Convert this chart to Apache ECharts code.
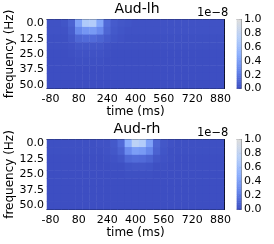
<!DOCTYPE html>
<html>
<head>
<meta charset="utf-8">
<script src="https://cdn.jsdelivr.net/npm/echarts@6/dist/echarts.min.js"></script>
<style>
html,body{margin:0;padding:0;background:#fff;}
#chart{width:274px;height:244px;}
</style>
</head>
<body>
<div id="chart"></div>
<script>
// ---- data ----
var times = [-80,-40,0,40,80,120,160,200,240,280,320,360,400,440,480,520,560,600,640,680,720,760,800,840,880];
var freqs = [0,6.25,12.5,18.75,25,31.25,37.5,43.75,50];
var titles = ['Aud-lh','Aud-rh'];
var colorbarTicks = [0,0.2,0.4,0.6,0.8,1.0];
var scaleLabel = '1e\u22128';
// power in units of 1e-8, one row per frequency (top row = 0 Hz)
var audLhPower = [
 [0.03,0.03,0.04,0.10,0.42,0.70,0.72,0.45,0.14,0.07,0.05,0.04,0.03,0.03,0.03,0.03,0.03,0.03,0.03,0.03,0.03,0.03,0.03,0.03,0.03],
 [0.03,0.03,0.03,0.08,0.28,0.36,0.38,0.30,0.12,0.06,0.04,0.03,0.03,0.03,0.03,0.03,0.03,0.03,0.03,0.03,0.03,0.03,0.03,0.03,0.03],
 [0.02,0.02,0.02,0.05,0.12,0.14,0.14,0.11,0.07,0.04,0.03,0.02,0.02,0.02,0.02,0.02,0.02,0.02,0.02,0.02,0.02,0.02,0.02,0.02,0.02],
 [0.02,0.02,0.02,0.03,0.05,0.05,0.05,0.05,0.03,0.02,0.02,0.02,0.02,0.02,0.02,0.02,0.02,0.02,0.02,0.02,0.02,0.02,0.02,0.02,0.02],
 [0.01,0.01,0.01,0.02,0.03,0.03,0.03,0.03,0.02,0.01,0.01,0.01,0.01,0.01,0.01,0.01,0.01,0.01,0.01,0.01,0.01,0.01,0.01,0.01,0.01],
 [0.01,0.01,0.01,0.01,0.02,0.02,0.02,0.02,0.01,0.01,0.01,0.01,0.01,0.01,0.01,0.01,0.01,0.01,0.01,0.01,0.01,0.01,0.01,0.01,0.01],
 [0.01,0.01,0.01,0.01,0.01,0.01,0.01,0.01,0.01,0.01,0.01,0.01,0.01,0.01,0.01,0.01,0.01,0.01,0.01,0.01,0.01,0.01,0.01,0.01,0.01],
 [0.01,0.01,0.01,0.01,0.01,0.01,0.01,0.01,0.01,0.01,0.01,0.01,0.01,0.01,0.01,0.01,0.01,0.01,0.01,0.01,0.01,0.01,0.01,0.01,0.01],
 [0.01,0.01,0.01,0.01,0.01,0.01,0.01,0.01,0.01,0.01,0.01,0.01,0.01,0.01,0.01,0.01,0.01,0.01,0.01,0.01,0.01,0.01,0.01,0.01,0.01]
];
var audRhPower = [
 [0.02,0.02,0.02,0.02,0.02,0.02,0.02,0.03,0.03,0.06,0.14,0.50,0.78,0.72,0.42,0.12,0.05,0.03,0.02,0.02,0.02,0.02,0.02,0.02,0.02],
 [0.02,0.02,0.02,0.02,0.02,0.02,0.02,0.02,0.03,0.05,0.10,0.30,0.40,0.38,0.28,0.10,0.04,0.02,0.02,0.02,0.02,0.02,0.02,0.02,0.02],
 [0.01,0.01,0.01,0.01,0.01,0.01,0.01,0.01,0.02,0.03,0.05,0.13,0.15,0.14,0.11,0.05,0.03,0.02,0.01,0.01,0.01,0.01,0.01,0.01,0.01],
 [0.01,0.01,0.01,0.01,0.01,0.01,0.01,0.01,0.01,0.02,0.02,0.04,0.05,0.05,0.04,0.02,0.02,0.01,0.01,0.01,0.01,0.01,0.01,0.01,0.01],
 [0.01,0.01,0.01,0.01,0.01,0.01,0.01,0.01,0.01,0.01,0.01,0.02,0.02,0.02,0.02,0.01,0.01,0.01,0.01,0.01,0.01,0.01,0.01,0.01,0.01],
 [0.01,0.01,0.01,0.01,0.01,0.01,0.01,0.01,0.01,0.01,0.01,0.01,0.01,0.01,0.01,0.01,0.01,0.01,0.01,0.01,0.01,0.01,0.01,0.01,0.01],
 [0.01,0.01,0.01,0.01,0.01,0.01,0.01,0.01,0.01,0.01,0.01,0.01,0.01,0.01,0.01,0.01,0.01,0.01,0.01,0.01,0.01,0.01,0.01,0.01,0.01],
 [0.01,0.01,0.01,0.01,0.01,0.01,0.01,0.01,0.01,0.01,0.01,0.01,0.01,0.01,0.01,0.01,0.01,0.01,0.01,0.01,0.01,0.01,0.01,0.01,0.01],
 [0.01,0.01,0.01,0.01,0.01,0.01,0.01,0.01,0.01,0.01,0.01,0.01,0.01,0.01,0.01,0.01,0.01,0.01,0.01,0.01,0.01,0.01,0.01,0.01,0.01]
];
var cmap = ['#3b4cc0','#6282ea','#8db0fe','#b8d0f9','#dddddd'];

// ---- build ----
function toCells(m){
  var out=[];
  for(var r=0;r<m.length;r++) for(var c=0;c<m[r].length;c++) out.push([c,r,m[r][c]]);
  return out;
}
var cbSteps=[]; for(var i=0;i<100;i++) cbSteps.push(String(i));
var cbCells=[]; for(var j=0;j<100;j++) cbCells.push([0,j,(j+0.5)/100]);

var FONT='DejaVu Sans';
var TICK=11, NAME=12;
var timeLabels=times.map(String);
var freqLabels=freqs.map(String);

var plots=[{top:19.5,height:69},{top:139.5,height:70}];
var grid=[],xAxis=[],yAxis=[],series=[],title=[];
var mats=[audLhPower,audRhPower];
plots.forEach(function(p,k){
  var g=grid.length;
  grid.push({left:47,top:p.top,width:177,height:p.height,containLabel:false,outerBoundsMode:'none'});
  var xb=xAxis.length;
  xAxis.push({gridIndex:g,type:'category',data:timeLabels,position:'bottom',
    axisLine:{show:true,lineStyle:{color:'#000',width:1}},
    axisTick:{show:true,inside:true,length:3,interval:3,alignWithLabel:true,lineStyle:{color:'#000'}},
    axisLabel:{interval:3,margin:5,fontFamily:FONT,fontSize:TICK,color:'#000',hideOverlap:false},
    name:'time (ms)',nameLocation:'middle',nameGap:17,nameMoveOverlap:false,
    nameTextStyle:{fontFamily:FONT,fontSize:NAME,color:'#000'},splitLine:{show:false}});
  xAxis.push({gridIndex:g,type:'category',data:timeLabels,position:'top',
    axisLine:{show:true,lineStyle:{color:'#000',width:1}},
    axisTick:{show:true,inside:true,length:3,interval:3,alignWithLabel:true,lineStyle:{color:'#000'}},
    axisLabel:{show:false},splitLine:{show:false}});
  var yb=yAxis.length;
  yAxis.push({gridIndex:g,type:'category',data:freqLabels,inverse:true,position:'left',
    axisLine:{show:true,lineStyle:{color:'#000',width:1}},
    axisTick:{show:true,inside:true,length:3,interval:1,alignWithLabel:true,lineStyle:{color:'#000'}},
    axisLabel:{interval:1,margin:3,fontFamily:FONT,fontSize:TICK,color:'#000',hideOverlap:false,
      formatter:function(v){return Number(v).toFixed(1);}},
    name:'frequency (Hz)',nameLocation:'middle',nameGap:31,nameRotate:90,nameMoveOverlap:false,
    nameTextStyle:{fontFamily:FONT,fontSize:NAME,color:'#000'},splitLine:{show:false}});
  yAxis.push({gridIndex:g,type:'category',data:freqLabels,inverse:true,position:'right',
    axisLine:{show:true,lineStyle:{color:'#000',width:1}},
    axisTick:{show:true,inside:true,length:3,interval:1,alignWithLabel:true,lineStyle:{color:'#000'}},
    axisLabel:{show:false},splitLine:{show:false}});
  series.push({type:'heatmap',xAxisIndex:xb,yAxisIndex:yb,data:toCells(mats[k]),
    itemStyle:{borderWidth:0},emphasis:{disabled:true},z:1});
  title.push({text:titles[k],left:'center',top:p.top-17,
    textStyle:{fontFamily:FONT,fontSize:14,fontWeight:'normal',color:'#000'},padding:0});
  title.push({text:scaleLabel,left:197,top:p.top-12,
    textStyle:{fontFamily:FONT,fontSize:11.5,fontWeight:'normal',color:'#000'},padding:0});
});
// colorbars
plots.forEach(function(p,k){
  var g=grid.length;
  grid.push({left:237,top:p.top,width:4,height:p.height,outerBoundsMode:'none'});
  var xb=xAxis.length;
  xAxis.push({gridIndex:g,type:'category',data:['c'],position:'bottom',
    axisLine:{show:true,lineStyle:{color:'#888'}},axisTick:{show:false},axisLabel:{show:false}});
  xAxis.push({gridIndex:g,type:'category',data:['c'],position:'top',
    axisLine:{show:true,lineStyle:{color:'#888'}},axisTick:{show:false},axisLabel:{show:false}});
  var yb=yAxis.length;
  yAxis.push({gridIndex:g,type:'category',data:cbSteps,position:'left',
    axisLine:{show:true,lineStyle:{color:'#888'}},axisTick:{show:false},axisLabel:{show:false}});
  yAxis.push({gridIndex:g,type:'value',min:0,max:1,interval:0.2,position:'right',
    axisLine:{show:true,lineStyle:{color:'#888'}},
    axisTick:{show:true,inside:true,length:2,lineStyle:{color:'#555'}},
    axisLabel:{margin:3,fontFamily:FONT,fontSize:TICK,color:'#000',hideOverlap:false,
      formatter:function(v){return v.toFixed(1);}},
    splitLine:{show:false}});
  series.push({type:'heatmap',xAxisIndex:xb,yAxisIndex:yb,data:cbCells,
    itemStyle:{borderWidth:0},emphasis:{disabled:true},z:1});
});

var chart=echarts.init(document.getElementById('chart'),null,{renderer:'canvas'});
chart.setOption({
  animation:false,
  backgroundColor:'#fff',
  title:title,
  grid:grid,xAxis:xAxis,yAxis:yAxis,
  visualMap:{show:false,type:'continuous',min:0,max:1,dimension:2,seriesIndex:[0,1,2,3],
    inRange:{color:cmap}},
  series:series
});
</script>
</body>
</html>
